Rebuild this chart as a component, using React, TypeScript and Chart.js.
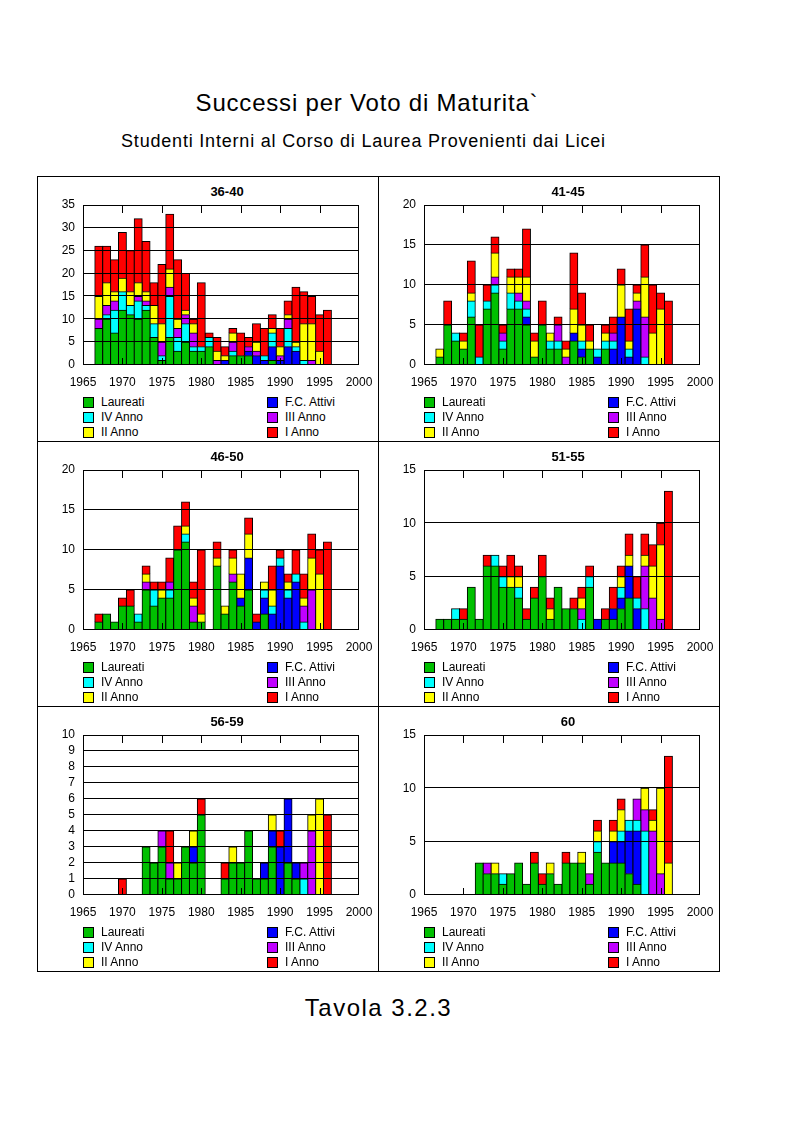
import React, { useEffect, useRef } from "react";
import { Chart, registerables } from "chart.js";

Chart.register(...registerables);

// ---------- data ----------
const years = [
  1967, 1968, 1969, 1970, 1971, 1972, 1973, 1974, 1975, 1976,
  1977, 1978, 1979, 1980, 1981, 1982, 1983, 1984, 1985, 1986,
  1987, 1988, 1989, 1990, 1991, 1992, 1993, 1994, 1995, 1996,
];

const seriesNames = ["Laureati", "F.C. Attivi", "IV Anno", "III Anno", "II Anno", "I Anno"];
const seriesColors = ["#00C000", "#0000FF", "#00FFFF", "#C000FF", "#FFFF00", "#FF0000"];

const xTickMin = 1965;
const xTickMax = 2000;
const xTickStep = 5;

// 36-40
const v3640_laureati = [8, 10, 7, 12, 11, 10, 12, 6, 1, 6, 3, 5, 3, 3, 4, 0, 0, 2, 2, 2, 0, 0, 1, 0, 0, 0, 0, 0, 0, 0];
const v3640_fcAttivi = [0, 0, 0, 0, 0, 0, 0, 0, 0, 0, 0, 0, 0, 0, 0, 0, 1, 0, 0, 1, 2, 1, 3, 1, 4, 3, 0, 0, 0, 0];
const v3640_ivAnno = [0, 1, 5, 4, 2, 4, 1, 3, 1, 9, 3, 4, 1, 1, 2, 0, 0, 1, 0, 0, 0, 1, 3, 0, 4, 1, 1, 0, 0, 0];
const v3640_iiiAnno = [2, 2, 2, 0, 0, 1, 1, 0, 3, 2, 2, 2, 3, 0, 0, 1, 0, 2, 0, 1, 1, 0, 0, 1, 2, 0, 0, 1, 0, 0];
const v3640_iiAnno = [5, 5, 2, 3, 3, 3, 2, 4, 4, 4, 2, 1, 2, 0, 0, 2, 1, 2, 0, 0, 2, 0, 1, 2, 1, 1, 8, 8, 3, 0];
const v3640_iAnno = [11, 8, 7, 10, 9, 14, 11, 5, 13, 12, 13, 8, 1, 14, 1, 3, 2, 1, 5, 2, 4, 6, 3, 4, 3, 12, 7, 6, 8, 12];

// 41-45
const v4145_laureati = [1, 5, 3, 2, 6, 0, 7, 9, 2, 7, 7, 5, 1, 5, 2, 2, 0, 3, 1, 2, 0, 2, 0, 0, 0, 0, 0, 0, 0, 0];
const v4145_fcAttivi = [0, 0, 0, 0, 0, 0, 0, 0, 0, 0, 0, 1, 0, 0, 0, 0, 0, 1, 1, 0, 1, 0, 2, 6, 1, 7, 0, 0, 0, 0];
const v4145_ivAnno = [0, 0, 1, 0, 2, 1, 1, 1, 1, 2, 1, 1, 0, 0, 1, 1, 0, 0, 1, 0, 1, 1, 1, 0, 1, 0, 1, 0, 0, 0];
const v4145_iiiAnno = [0, 0, 0, 0, 0, 0, 0, 1, 1, 0, 1, 1, 0, 0, 0, 2, 1, 0, 0, 0, 0, 0, 1, 0, 0, 1, 5, 0, 0, 0];
const v4145_iiAnno = [1, 0, 0, 1, 1, 0, 0, 3, 0, 2, 2, 3, 2, 0, 1, 0, 1, 3, 2, 1, 0, 1, 0, 4, 1, 1, 5, 4, 7, 0];
const v4145_iAnno = [0, 3, 0, 1, 4, 4, 2, 2, 1, 1, 1, 6, 1, 3, 0, 1, 1, 7, 4, 2, 0, 1, 2, 2, 4, 1, 4, 6, 2, 8];

// 46-50
const v4650_laureati = [1, 2, 1, 3, 3, 1, 5, 3, 4, 4, 10, 11, 1, 1, 0, 8, 2, 6, 3, 5, 0, 2, 0, 0, 0, 0, 0, 0, 0, 0];
const v4650_fcAttivi = [0, 0, 0, 0, 0, 0, 0, 0, 0, 0, 0, 0, 0, 0, 0, 0, 0, 0, 1, 4, 1, 2, 2, 8, 4, 6, 0, 0, 0, 0];
const v4650_ivAnno = [0, 0, 0, 0, 0, 1, 0, 2, 0, 1, 0, 1, 0, 0, 0, 0, 0, 0, 0, 0, 0, 1, 1, 1, 1, 1, 1, 0, 0, 0];
const v4650_iiiAnno = [0, 0, 0, 0, 0, 0, 1, 0, 0, 1, 0, 0, 2, 0, 0, 0, 0, 1, 0, 0, 0, 0, 0, 0, 0, 0, 2, 5, 0, 0];
const v4650_iiAnno = [0, 0, 0, 0, 0, 0, 1, 0, 1, 0, 0, 1, 1, 1, 0, 1, 1, 2, 3, 3, 0, 1, 2, 0, 1, 0, 1, 4, 7, 0];
const v4650_iAnno = [1, 0, 0, 1, 2, 0, 1, 1, 1, 3, 3, 3, 2, 8, 0, 2, 0, 1, 0, 2, 1, 0, 3, 1, 1, 3, 3, 3, 3, 11];

// 51-55
const v5155_laureati = [1, 1, 1, 1, 4, 1, 6, 6, 4, 4, 3, 1, 3, 5, 1, 4, 2, 2, 0, 4, 0, 1, 1, 2, 3, 0, 0, 0, 0, 0];
const v5155_fcAttivi = [0, 0, 0, 0, 0, 0, 0, 0, 0, 0, 0, 0, 0, 0, 0, 0, 0, 0, 0, 0, 1, 0, 1, 1, 3, 2, 0, 0, 0, 0];
const v5155_ivAnno = [0, 0, 1, 0, 0, 0, 0, 1, 1, 0, 1, 0, 0, 0, 0, 0, 0, 0, 1, 1, 0, 0, 0, 1, 0, 1, 2, 0, 0, 0];
const v5155_iiiAnno = [0, 0, 0, 0, 0, 0, 0, 0, 0, 0, 0, 0, 0, 0, 0, 0, 0, 0, 1, 0, 0, 0, 0, 0, 0, 0, 4, 3, 1, 0];
const v5155_iiAnno = [0, 0, 0, 0, 0, 0, 0, 0, 0, 1, 1, 0, 0, 0, 1, 0, 0, 0, 1, 0, 0, 0, 0, 1, 1, 0, 1, 3, 7, 0];
const v5155_iAnno = [0, 0, 0, 1, 0, 0, 1, 0, 1, 2, 1, 1, 1, 2, 1, 0, 0, 1, 1, 1, 0, 1, 2, 1, 2, 2, 2, 2, 2, 13];

// 56-59
const v5659_laureati = [0, 0, 0, 0, 0, 0, 3, 2, 3, 1, 1, 3, 2, 5, 0, 0, 1, 2, 2, 4, 1, 1, 3, 0, 2, 1, 0, 0, 0, 0];
const v5659_fcAttivi = [0, 0, 0, 0, 0, 0, 0, 0, 0, 0, 0, 0, 1, 0, 0, 0, 0, 0, 0, 0, 0, 1, 1, 3, 4, 1, 0, 0, 0, 0];
const v5659_ivAnno = [0, 0, 0, 0, 0, 0, 0, 0, 0, 0, 0, 0, 0, 0, 0, 0, 0, 0, 0, 0, 0, 0, 0, 0, 0, 0, 1, 0, 0, 0];
const v5659_iiiAnno = [0, 0, 0, 0, 0, 0, 0, 0, 1, 1, 0, 0, 0, 0, 0, 0, 0, 0, 0, 0, 0, 0, 0, 0, 0, 0, 1, 4, 0, 0];
const v5659_iiAnno = [0, 0, 0, 0, 0, 0, 0, 0, 0, 0, 1, 0, 1, 0, 0, 0, 0, 1, 0, 0, 0, 0, 1, 0, 0, 0, 0, 1, 6, 0];
const v5659_iAnno = [0, 0, 0, 1, 0, 0, 0, 0, 0, 2, 0, 0, 0, 1, 0, 0, 1, 0, 0, 0, 0, 0, 0, 1, 0, 0, 0, 0, 0, 5];

// 60
const v60_laureati = [0, 0, 0, 0, 0, 3, 2, 2, 1, 2, 3, 1, 3, 1, 2, 1, 3, 3, 3, 1, 4, 3, 3, 3, 2, 1, 0, 0, 0, 0];
const v60_fcAttivi = [0, 0, 0, 0, 0, 0, 0, 0, 0, 0, 0, 0, 0, 0, 0, 0, 0, 0, 0, 0, 0, 0, 2, 2, 4, 5, 0, 0, 0, 0];
const v60_ivAnno = [0, 0, 0, 0, 0, 0, 0, 0, 1, 0, 0, 0, 0, 0, 0, 0, 0, 0, 0, 0, 1, 0, 0, 1, 1, 1, 6, 0, 0, 0];
const v60_iiiAnno = [0, 0, 0, 0, 0, 0, 1, 0, 0, 0, 0, 0, 0, 0, 0, 0, 0, 0, 0, 1, 0, 0, 0, 0, 0, 2, 2, 6, 2, 0];
const v60_iiAnno = [0, 0, 0, 0, 0, 0, 0, 1, 0, 0, 0, 0, 0, 0, 1, 0, 0, 0, 1, 0, 1, 0, 1, 2, 0, 0, 2, 1, 8, 3];
const v60_iAnno = [0, 0, 0, 0, 0, 0, 0, 0, 0, 0, 0, 0, 1, 1, 0, 0, 1, 0, 0, 0, 1, 0, 1, 1, 0, 0, 0, 1, 0, 10];

const panelTitles = ["36-40", "41-45", "46-50", "51-55", "56-59", "60"];
const panelYMax = [35, 20, 20, 15, 10, 15];
const panelYStep = [5, 5, 5, 5, 1, 5];
const panelSeries = [
  [v3640_laureati, v3640_fcAttivi, v3640_ivAnno, v3640_iiiAnno, v3640_iiAnno, v3640_iAnno],
  [v4145_laureati, v4145_fcAttivi, v4145_ivAnno, v4145_iiiAnno, v4145_iiAnno, v4145_iAnno],
  [v4650_laureati, v4650_fcAttivi, v4650_ivAnno, v4650_iiiAnno, v4650_iiAnno, v4650_iAnno],
  [v5155_laureati, v5155_fcAttivi, v5155_ivAnno, v5155_iiiAnno, v5155_iiAnno, v5155_iAnno],
  [v5659_laureati, v5659_fcAttivi, v5659_ivAnno, v5659_iiiAnno, v5659_iiAnno, v5659_iAnno],
  [v60_laureati, v60_fcAttivi, v60_ivAnno, v60_iiiAnno, v60_iiAnno, v60_iAnno],
];

// ---------- layout ----------
const FONT = '"Liberation Sans", Arial, sans-serif';
const PANEL_X0 = 37;
const PANEL_Y0 = 176;
const PANEL_W = 341;
const PANEL_H = 265;
const CANVAS_W = 350;
const CANVAS_H = 215;
const PLOT_LEFT = 46;
const PLOT_TOP = 29;
const PLOT_RIGHT = 322;
const PLOT_BOTTOM = 189;

const framePlugin = {
  id: "frameAndGrid",
  afterDatasetsDraw(chart: any) {
    const { ctx, chartArea: a, scales } = chart;
    const ys = scales.y;
    const xs = scales.x;
    ctx.save();
    ctx.strokeStyle = "#000";
    ctx.lineWidth = 1;
    ctx.beginPath();
    ys.ticks.forEach((t: any) => {
      if (t.value <= ys.min || t.value >= ys.max) return;
      const y = Math.round(ys.getPixelForValue(t.value)) - 0.5;
      ctx.moveTo(a.left, y);
      ctx.lineTo(a.right, y);
    });
    xs.ticks.forEach((t: any) => {
      if (t.value <= xs.min || t.value >= xs.max) return;
      const x = Math.round(xs.getPixelForValue(t.value)) + 0.5;
      ctx.moveTo(x, a.top);
      ctx.lineTo(x, a.top + 8);
      ctx.moveTo(x, a.bottom);
      ctx.lineTo(x, a.bottom - 7);
    });
    ctx.stroke();
    ctx.strokeRect(a.left + 0.5, a.top + 0.5, a.right - a.left - 1, a.bottom - a.top - 1);
    ctx.restore();
  },
};

function Panel({ index }: { index: number }) {
  const ref = useRef<HTMLCanvasElement | null>(null);
  const col = index % 2;
  const row = Math.floor(index / 2);
  const x0 = PANEL_X0 + col * PANEL_W;
  const y0 = PANEL_Y0 + row * PANEL_H;

  useEffect(() => {
    if (!ref.current) return;
    const series = panelSeries[index];
    const datasets = series.map((arr, si) => ({
      label: seriesNames[si],
      data: years.map((yr, i) => ({ x: yr, y: arr[i] ? arr[i] : null })),
      backgroundColor: seriesColors[si],
      borderColor: "#000",
      borderWidth: 1,
      borderSkipped: "start",
      inflateAmount: 0.5,
      barPercentage: 1,
      categoryPercentage: 1,
    }));
    const tickFont = { family: FONT, size: 12 };
    const chart = new Chart(ref.current, {
      type: "bar",
      data: { datasets } as any,
      plugins: [framePlugin],
      options: {
        animation: false,
        responsive: false,
        maintainAspectRatio: false,
        events: [],
        layout: { padding: { left: 0, top: PLOT_TOP, right: CANVAS_W - PLOT_RIGHT, bottom: 0 } },
        plugins: { legend: { display: false }, title: { display: false }, tooltip: { enabled: false } },
        scales: {
          x: {
            type: "linear",
            stacked: true,
            offset: false,
            min: xTickMin,
            max: xTickMax,
            grid: { display: false, drawTicks: false, offset: false },
            border: { display: false },
            ticks: {
              stepSize: xTickStep,
              color: "#000",
              font: tickFont,
              padding: 10,
              maxRotation: 0,
              autoSkip: false,
              callback: (v: any) => String(v),
            },
            afterFit: (s: any) => {
              s.height = CANVAS_H - PLOT_BOTTOM;
            },
          },
          y: {
            type: "linear",
            stacked: true,
            min: 0,
            max: panelYMax[index],
            grid: { display: false, drawTicks: false },
            border: { display: false },
            ticks: {
              stepSize: panelYStep[index],
              color: "#000",
              font: tickFont,
              padding: 8,
              autoSkip: false,
              callback: (v: any) => String(v),
            },
            afterFit: (s: any) => {
              s.width = PLOT_LEFT;
            },
          },
        },
      } as any,
    });
    return () => chart.destroy();
  }, [index]);

  const legendRows = [
    [0, 1],
    [2, 3],
    [4, 5],
  ];
  const legendColX = [46, 230];

  return (
    <>
      <div
        style={{
          position: "absolute",
          left: x0,
          top: y0,
          width: PANEL_W + 1,
          height: PANEL_H + 1,
          border: "1px solid #000",
          boxSizing: "border-box",
        }}
      />
      <div
        style={{
          position: "absolute",
          left: x0 + PLOT_LEFT + 6,
          top: y0 + 8,
          width: PLOT_RIGHT - PLOT_LEFT,
          textAlign: "center",
          fontSize: 13,
          fontWeight: "bold",
          lineHeight: "16px",
          fontFamily: FONT,
          color: "#000",
        }}
      >
        {panelTitles[index]}
      </div>
      <canvas
        ref={ref}
        width={CANVAS_W}
        height={CANVAS_H}
        style={{ position: "absolute", left: x0, top: y0, width: CANVAS_W, height: CANVAS_H }}
      />
      {legendRows.map((pair, r) =>
        pair.map((si, c) => (
          <div key={`${r}-${c}`}>
            <div
              style={{
                position: "absolute",
                left: x0 + legendColX[c],
                top: y0 + 221 + r * 15,
                width: 11,
                height: 11,
                boxSizing: "border-box",
                border: "1px solid #000",
                background: seriesColors[si],
              }}
            />
            <div
              style={{
                position: "absolute",
                left: x0 + legendColX[c] + 18,
                top: y0 + 219 + r * 15,
                fontSize: 12,
                lineHeight: "15px",
                fontFamily: FONT,
                color: "#000",
                whiteSpace: "nowrap",
              }}
            >
              {seriesNames[si]}
            </div>
          </div>
        ))
      )}
    </>
  );
}

export default function App() {
  return (
    <div
      style={{
        position: "absolute",
        left: 0,
        top: 0,
        width: 793,
        height: 1122,
        background: "#fff",
        fontFamily: FONT,
        color: "#000",
      }}
    >
      <div
        style={{
          position: "absolute",
          left: 0,
          top: 88,
          width: 734,
          textAlign: "center",
          fontSize: 24,
          lineHeight: "30px",
          letterSpacing: "0.8px",
        }}
      >
        Successi per Voto di Maturita`
      </div>
      <div
        style={{
          position: "absolute",
          left: 0,
          top: 130,
          width: 727,
          textAlign: "center",
          fontSize: 18,
          lineHeight: "22px",
          letterSpacing: "0.8px",
        }}
      >
        Studenti Interni al Corso di Laurea Provenienti dai Licei
      </div>
      {panelTitles.map((_, i) => (
        <Panel key={i} index={i} />
      ))}
      <div
        style={{
          position: "absolute",
          left: 0,
          top: 993,
          width: 757,
          textAlign: "center",
          fontSize: 24,
          lineHeight: "30px",
          letterSpacing: "1.5px",
        }}
      >
        Tavola 3.2.3
      </div>
    </div>
  );
}
